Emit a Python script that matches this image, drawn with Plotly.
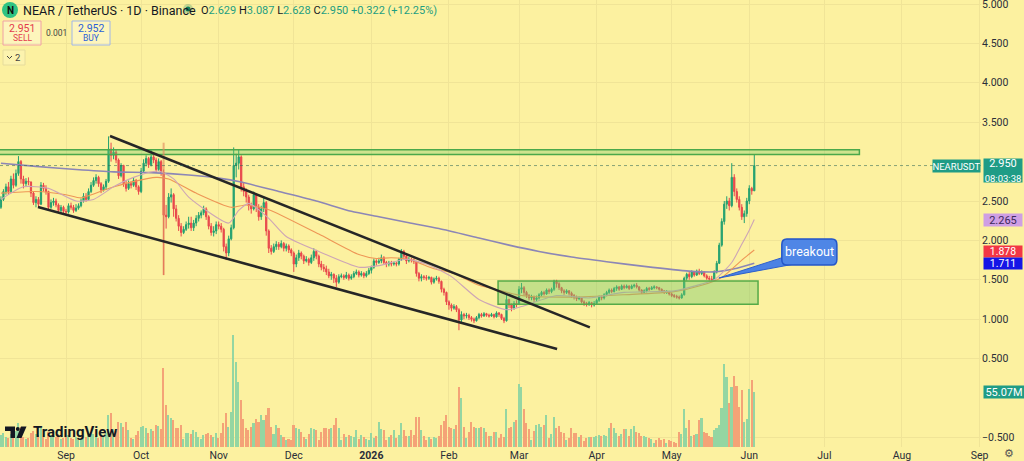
import pandas as pd
import plotly.graph_objects as go

# ---------------- DATA ----------------
START = "2025-08-06"
FIRST_OPEN = 2.42

close_aug = [2.52, 2.62, 2.68, 2.62, 2.78, 2.70, 2.85, 3.00, 2.78, 2.72, 2.75, 2.74, 2.60, 2.48, 2.52, 2.46, 2.70, 2.66, 2.62, 2.42, 2.48, 2.50, 2.45, 2.38, 2.42, 2.37]
high_aug = [2.56, 2.65, 2.72, 2.74, 2.82, 2.85, 2.90, 3.07, 3.02, 2.82, 2.79, 2.80, 2.75, 2.62, 2.56, 2.55, 2.74, 2.73, 2.70, 2.63, 2.52, 2.54, 2.53, 2.47, 2.45, 2.44]
low_aug = [2.40, 2.50, 2.58, 2.58, 2.60, 2.66, 2.68, 2.82, 2.72, 2.66, 2.69, 2.70, 2.55, 2.45, 2.42, 2.42, 2.45, 2.62, 2.58, 2.39, 2.40, 2.44, 2.42, 2.35, 2.36, 2.34]

close_sep = [2.36, 2.44, 2.42, 2.38, 2.41, 2.44, 2.50, 2.56, 2.52, 2.62, 2.70, 2.76, 2.80, 2.72, 2.64, 2.68, 2.75, 3.16, 3.08, 3.12, 3.02, 2.82, 2.95, 2.72, 2.66, 2.72, 2.70, 2.76, 2.68, 2.62]
high_sep = [2.40, 2.47, 2.48, 2.45, 2.46, 2.47, 2.53, 2.60, 2.60, 2.66, 2.74, 2.80, 2.84, 2.82, 2.74, 2.71, 2.78, 3.32, 3.24, 3.18, 3.15, 3.04, 2.98, 2.96, 2.76, 2.76, 2.75, 2.80, 2.78, 2.70]
low_sep = [2.32, 2.34, 2.39, 2.35, 2.36, 2.39, 2.42, 2.48, 2.49, 2.51, 2.60, 2.68, 2.72, 2.68, 2.60, 2.62, 2.64, 2.73, 3.00, 3.03, 2.98, 2.78, 2.80, 2.68, 2.62, 2.64, 2.66, 2.68, 2.64, 2.58]

close_oct = [2.88, 2.98, 3.04, 2.96, 3.06, 3.02, 2.90, 3.00, 2.86, 2.32, 2.30, 2.55, 2.58, 2.40, 2.28, 2.18, 2.10, 2.14, 2.20, 2.22, 2.16, 2.22, 2.28, 2.32, 2.35, 2.40, 2.30, 2.18, 2.10, 2.12, 2.20]
high_oct = [2.92, 3.03, 3.08, 3.06, 3.15, 3.12, 3.05, 3.04, 3.02, 2.90, 2.45, 2.60, 2.66, 2.60, 2.45, 2.32, 2.22, 2.18, 2.24, 2.30, 2.30, 2.26, 2.32, 2.36, 2.38, 2.44, 2.42, 2.32, 2.22, 2.18, 2.24]
low_oct = [2.60, 2.86, 2.94, 2.92, 2.94, 2.98, 2.86, 2.88, 2.82, 1.56, 2.15, 2.28, 2.48, 2.30, 2.24, 2.12, 2.05, 2.08, 2.12, 2.15, 2.12, 2.12, 2.18, 2.24, 2.28, 2.32, 2.26, 2.14, 2.06, 2.05, 2.08]

close_nov = [2.18, 2.14, 1.92, 1.84, 2.02, 2.16, 2.95, 2.98, 3.06, 2.68, 2.62, 2.55, 2.44, 2.40, 2.58, 2.42, 2.30, 2.40, 2.48, 2.12, 1.90, 1.86, 1.92, 1.95, 1.92, 1.96, 1.90, 1.93, 1.88, 1.84]
high_nov = [2.24, 2.22, 2.16, 1.96, 2.06, 2.20, 3.18, 3.10, 3.16, 3.08, 2.74, 2.66, 2.58, 2.48, 2.62, 2.60, 2.46, 2.44, 2.56, 2.50, 2.14, 1.94, 1.96, 1.99, 1.98, 2.00, 1.98, 1.96, 1.95, 1.90]
low_nov = [2.14, 2.10, 1.86, 1.75, 1.80, 2.00, 2.14, 2.80, 2.90, 2.62, 2.56, 2.48, 2.38, 2.34, 2.38, 2.36, 2.25, 2.26, 2.36, 2.06, 1.84, 1.82, 1.84, 1.88, 1.88, 1.90, 1.86, 1.86, 1.84, 1.80]

close_dec = [1.70, 1.78, 1.84, 1.80, 1.74, 1.76, 1.72, 1.78, 1.86, 1.80, 1.70, 1.66, 1.64, 1.60, 1.55, 1.57, 1.52, 1.47, 1.54, 1.55, 1.53, 1.56, 1.52, 1.54, 1.58, 1.60, 1.56, 1.58, 1.55, 1.58, 1.62]
high_dec = [1.86, 1.82, 1.88, 1.86, 1.82, 1.80, 1.78, 1.82, 1.90, 1.88, 1.82, 1.74, 1.70, 1.68, 1.64, 1.60, 1.58, 1.56, 1.57, 1.58, 1.57, 1.60, 1.58, 1.57, 1.61, 1.63, 1.62, 1.61, 1.60, 1.61, 1.65]
low_dec = [1.60, 1.66, 1.74, 1.76, 1.70, 1.72, 1.68, 1.70, 1.74, 1.76, 1.66, 1.62, 1.60, 1.56, 1.52, 1.50, 1.46, 1.41, 1.45, 1.52, 1.50, 1.51, 1.49, 1.50, 1.52, 1.56, 1.53, 1.54, 1.52, 1.53, 1.56]

close_jan = [1.66, 1.74, 1.72, 1.74, 1.78, 1.72, 1.70, 1.71, 1.70, 1.71, 1.70, 1.76, 1.86, 1.80, 1.74, 1.76, 1.75, 1.73, 1.58, 1.52, 1.54, 1.53, 1.52, 1.53, 1.47, 1.51, 1.52, 1.48, 1.38, 1.34, 1.22]
high_jan = [1.68, 1.77, 1.76, 1.78, 1.82, 1.80, 1.74, 1.74, 1.74, 1.73, 1.73, 1.78, 1.89, 1.88, 1.82, 1.79, 1.78, 1.77, 1.74, 1.60, 1.57, 1.56, 1.56, 1.55, 1.54, 1.53, 1.55, 1.54, 1.49, 1.40, 1.35]
low_jan = [1.58, 1.64, 1.68, 1.70, 1.71, 1.69, 1.66, 1.67, 1.67, 1.68, 1.67, 1.68, 1.74, 1.76, 1.70, 1.72, 1.72, 1.70, 1.54, 1.48, 1.48, 1.50, 1.49, 1.50, 1.44, 1.45, 1.49, 1.45, 1.34, 1.30, 1.18]

close_feb = [1.18, 1.14, 1.16, 1.12, 0.99, 1.06, 1.04, 1.05, 1.02, 1.00, 0.98, 1.02, 1.06, 1.04, 1.07, 1.05, 1.04, 1.06, 1.03, 1.08, 1.06, 1.01, 0.98, 1.25, 1.18, 1.14, 1.20, 1.19]
high_feb = [1.24, 1.20, 1.19, 1.18, 1.14, 1.10, 1.08, 1.08, 1.07, 1.04, 1.02, 1.04, 1.08, 1.08, 1.09, 1.08, 1.07, 1.08, 1.07, 1.10, 1.09, 1.07, 1.03, 1.32, 1.26, 1.20, 1.23, 1.24]
low_feb = [1.12, 1.10, 1.12, 1.09, 0.86, 0.95, 1.00, 1.01, 0.99, 0.97, 0.95, 0.97, 1.00, 1.02, 1.03, 1.03, 1.02, 1.03, 1.01, 1.02, 1.03, 0.99, 0.95, 0.97, 1.14, 1.10, 1.12, 1.15]

close_mar = [1.38, 1.40, 1.34, 1.30, 1.27, 1.28, 1.25, 1.27, 1.31, 1.34, 1.32, 1.37, 1.35, 1.38, 1.48, 1.45, 1.40, 1.36, 1.34, 1.36, 1.33, 1.30, 1.28, 1.26, 1.27, 1.22, 1.20, 1.19, 1.21, 1.18, 1.20]
high_mar = [1.42, 1.46, 1.42, 1.36, 1.32, 1.31, 1.30, 1.30, 1.33, 1.36, 1.36, 1.39, 1.39, 1.40, 1.50, 1.50, 1.47, 1.41, 1.38, 1.38, 1.37, 1.35, 1.32, 1.30, 1.29, 1.28, 1.24, 1.22, 1.23, 1.22, 1.23]
low_mar = [1.18, 1.33, 1.30, 1.27, 1.24, 1.24, 1.22, 1.23, 1.25, 1.29, 1.30, 1.31, 1.32, 1.33, 1.36, 1.40, 1.37, 1.33, 1.31, 1.32, 1.30, 1.27, 1.25, 1.23, 1.24, 1.20, 1.17, 1.16, 1.17, 1.15, 1.16]

close_apr = [1.24, 1.28, 1.27, 1.31, 1.34, 1.37, 1.35, 1.39, 1.41, 1.38, 1.42, 1.40, 1.42, 1.39, 1.42, 1.43, 1.41, 1.37, 1.34, 1.36, 1.39, 1.38, 1.40, 1.41, 1.40, 1.38, 1.36, 1.34, 1.35, 1.32]
high_apr = [1.26, 1.30, 1.30, 1.33, 1.36, 1.39, 1.39, 1.41, 1.43, 1.42, 1.44, 1.44, 1.44, 1.43, 1.44, 1.45, 1.46, 1.42, 1.38, 1.38, 1.41, 1.41, 1.42, 1.43, 1.42, 1.41, 1.39, 1.37, 1.37, 1.36]
low_apr = [1.18, 1.22, 1.24, 1.25, 1.29, 1.32, 1.33, 1.34, 1.36, 1.36, 1.37, 1.38, 1.39, 1.37, 1.38, 1.40, 1.39, 1.35, 1.32, 1.33, 1.34, 1.36, 1.37, 1.38, 1.38, 1.36, 1.34, 1.32, 1.32, 1.30]

close_may = [1.30, 1.29, 1.28, 1.27, 1.31, 1.52, 1.57, 1.54, 1.60, 1.56, 1.61, 1.58, 1.60, 1.55, 1.52, 1.51, 1.50, 1.60, 1.71, 1.94, 2.24, 2.46, 2.50, 2.44, 2.80, 2.62, 2.52, 2.42, 2.30, 2.34, 2.50]
high_may = [1.34, 1.32, 1.31, 1.30, 1.33, 1.54, 1.59, 1.60, 1.62, 1.61, 1.63, 1.64, 1.62, 1.61, 1.57, 1.55, 1.55, 1.62, 1.74, 1.97, 2.28, 2.50, 2.56, 2.54, 2.98, 2.84, 2.66, 2.56, 2.46, 2.38, 2.54]
low_may = [1.28, 1.27, 1.26, 1.25, 1.26, 1.30, 1.49, 1.50, 1.52, 1.54, 1.55, 1.56, 1.56, 1.53, 1.50, 1.49, 1.48, 1.49, 1.58, 1.70, 1.92, 2.20, 2.40, 2.38, 2.42, 2.56, 2.48, 2.38, 2.26, 2.22, 2.30]

close_jun = [2.66, 2.629, 2.950]
high_jun = [2.70, 2.68, 3.087]
low_jun = [2.46, 2.58, 2.628]

# volume in millions
vol_aug = [12, 14, 10, 9, 13, 11, 16, 24, 20, 10, 8, 9, 14, 16, 13, 12, 20, 10, 8, 15, 12, 11, 10, 13, 8, 9]
vol_sep = [10, 12, 9, 8, 10, 7, 8, 12, 10, 14, 15, 13, 11, 9, 12, 10, 14, 32, 34, 18, 16, 25, 24, 20, 25, 17, 9, 8, 12, 16]
vol_oct = [20, 21, 19, 14, 18, 16, 22, 21, 18, 79, 42, 32, 29, 27, 19, 19, 22, 8, 14, 14, 13, 17, 15, 10, 8, 12, 13, 14, 12, 10, 14]
vol_nov = [9, 14, 24, 34, 20, 35, 112, 85, 65, 47, 28, 19, 17, 20, 24, 28, 25, 32, 27, 32, 39, 20, 13, 22, 19, 12, 10, 7, 8, 7]
vol_dec = [22, 19, 18, 15, 10, 8, 13, 19, 18, 17, 7, 15, 19, 19, 18, 19, 22, 29, 19, 7, 13, 10, 12, 11, 10, 17, 8, 12, 10, 8, 7]
vol_jan = [14, 9, 11, 25, 18, 17, 7, 10, 12, 17, 9, 12, 24, 17, 11, 11, 17, 12, 30, 30, 17, 11, 7, 10, 8, 10, 9, 11, 22, 26, 32]
vol_feb = [20, 19, 18, 22, 60, 49, 20, 9, 15, 25, 20, 19, 19, 20, 19, 15, 11, 11, 15, 15, 9, 13, 10, 38, 19, 20, 25, 27]
vol_mar = [63, 60, 38, 24, 18, 7, 16, 22, 23, 20, 22, 32, 9, 13, 30, 19, 21, 15, 14, 7, 9, 19, 14, 14, 10, 12, 6, 9, 10, 10, 10]
vol_apr = [11, 12, 11, 12, 11, 19, 24, 19, 14, 11, 13, 18, 18, 11, 18, 21, 15, 14, 11, 11, 10, 9, 8, 4, 7, 9, 7, 8, 4, 7]
vol_may = [6, 5, 4, 15, 13, 38, 19, 27, 11, 12, 13, 27, 29, 15, 14, 11, 10, 17, 19, 22, 39, 83, 70, 44, 60, 71, 61, 40, 57, 25, 28]
vol_jun = [58, 67, 55.07]

# moving averages (date, value)
ma200_dates = ["2025-08-06", "2025-08-20", "2025-09-05", "2025-09-20", "2025-10-05", "2025-10-20", "2025-11-01", "2025-11-10", "2025-11-25", "2025-12-10", "2025-12-24", "2026-01-04", "2026-01-15", "2026-01-28", "2026-02-13", "2026-02-25", "2026-03-09", "2026-03-22", "2026-04-05", "2026-04-20", "2026-05-08", "2026-05-18", "2026-05-26", "2026-06-03"]
ma200_vals = [2.98, 2.94, 2.90, 2.87, 2.86, 2.83, 2.79, 2.74, 2.62, 2.50, 2.37, 2.30, 2.23, 2.15, 2.03, 1.94, 1.86, 1.79, 1.73, 1.67, 1.61, 1.60, 1.64, 1.711]
ma50_dates = ["2025-08-06", "2025-08-20", "2025-09-01", "2025-09-07", "2025-09-18", "2025-09-27", "2025-10-07", "2025-10-12", "2025-10-23", "2025-11-06", "2025-11-12", "2025-11-21", "2025-12-11", "2025-12-27", "2026-01-03", "2026-01-09", "2026-01-17", "2026-01-26", "2026-02-03", "2026-02-13", "2026-02-17", "2026-03-02", "2026-03-22", "2026-04-12", "2026-05-02", "2026-05-13", "2026-05-21", "2026-05-29", "2026-06-03"]
ma50_vals = [2.60, 2.62, 2.58, 2.54, 2.66, 2.74, 2.80, 2.78, 2.60, 2.42, 2.45, 2.39, 2.08, 1.82, 1.77, 1.78, 1.75, 1.64, 1.58, 1.43, 1.40, 1.30, 1.28, 1.31, 1.35, 1.43, 1.53, 1.75, 1.878]
ma20_dates = ["2025-08-06", "2025-08-15", "2025-08-25", "2025-09-05", "2025-09-12", "2025-09-20", "2025-09-28", "2025-10-08", "2025-10-14", "2025-10-20", "2025-11-05", "2025-11-09", "2025-11-13", "2025-11-21", "2025-11-28", "2025-12-11", "2025-12-27", "2026-01-04", "2026-01-15", "2026-01-23", "2026-02-02", "2026-02-13", "2026-02-24", "2026-03-02", "2026-03-16", "2026-03-29", "2026-04-12", "2026-05-02", "2026-05-10", "2026-05-18", "2026-05-25", "2026-05-29", "2026-06-01", "2026-06-03"]
ma20_vals = [2.52, 2.68, 2.66, 2.50, 2.52, 2.68, 2.80, 2.88, 2.78, 2.55, 2.22, 2.38, 2.47, 2.28, 2.05, 1.86, 1.66, 1.68, 1.76, 1.70, 1.54, 1.25, 1.12, 1.16, 1.30, 1.27, 1.34, 1.36, 1.42, 1.50, 1.72, 1.95, 2.13, 2.265]

# 3.000 and 0.000 are covered by the price / volume labels in the reference
y_ticks = [-0.5, 0.5, 1.0, 1.5, 2.0, 2.5, 3.5, 4.0, 4.5, 5.0]
month_ticks = ["2025-09-01", "2025-10-01", "2025-11-01", "2025-12-01", "2026-01-01", "2026-02-01", "2026-03-01", "2026-04-01", "2026-05-01", "2026-06-01", "2026-07-01", "2026-08-01", "2026-09-01"]
month_labels = ["Sep", "Oct", "Nov", "Dec", "<b>2026</b>", "Feb", "Mar", "Apr", "May", "Jun", "Jul", "Aug", "Sep"]

# ---------------- assemble ----------------
closes = close_aug + close_sep + close_oct + close_nov + close_dec + close_jan + close_feb + close_mar + close_apr + close_may + close_jun
highs = high_aug + high_sep + high_oct + high_nov + high_dec + high_jan + high_feb + high_mar + high_apr + high_may + high_jun
lows = low_aug + low_sep + low_oct + low_nov + low_dec + low_jan + low_feb + low_mar + low_apr + low_may + low_jun
vols = vol_aug + vol_sep + vol_oct + vol_nov + vol_dec + vol_jan + vol_feb + vol_mar + vol_apr + vol_may + vol_jun
opens = [FIRST_OPEN] + closes[:-1]
dates = pd.date_range(START, periods=len(closes), freq="D")
assert len(closes) == len(highs) == len(lows) == len(vols)

UP, DN = "#22a070", "#e8474c"
VUP, VDN = "#94d6a2", "#f4a377"
BG = "#fcf1a0"
GRID = "#f0e497"
TEAL = "#1f9c86"

W, H = 1024, 461
ML, MR, MT, MB = 0, 43, 0, 14
PW, PH = W - ML - MR, H - MT - MB


def PX(x):
    return x / PW


def PY(y):
    return 1 - y / PH


def ms(ts):
    return pd.Timestamp(ts).value // 10**6


fig = go.Figure()

vcolors = [VUP if c >= o else VDN for o, c in zip(opens, closes)]
fig.add_trace(go.Bar(x=dates, y=vols, marker=dict(color=vcolors, line=dict(width=0)),
                     width=0.62 * 86400000, yaxis="y2", hoverinfo="skip"))

fig.add_trace(go.Scatter(x=ma200_dates, y=ma200_vals, mode="lines",
                         line=dict(color="#8c86b6", width=1.6, shape="spline", smoothing=0.6)))
fig.add_trace(go.Scatter(x=ma50_dates, y=ma50_vals, mode="lines",
                         line=dict(color="#ee9656", width=1.1, shape="spline", smoothing=0.6)))
fig.add_trace(go.Scatter(x=ma20_dates, y=ma20_vals, mode="lines",
                         line=dict(color="#cda5b6", width=1.1, shape="spline", smoothing=0.6)))

fig.add_trace(go.Candlestick(
    x=dates, open=opens, high=highs, low=lows, close=closes,
    increasing=dict(line=dict(color=UP, width=1), fillcolor=UP),
    decreasing=dict(line=dict(color=DN, width=1), fillcolor=DN),
    whiskerwidth=0, hoverinfo="skip"))

shapes = []
# resistance band
shapes.append(dict(type="rect", xref="x", yref="y", x0="2025-07-01", x1="2026-07-15", y0=3.09, y1=3.15,
                   fillcolor="rgba(120,200,105,0.35)", line=dict(color="#4aa84a", width=1.5)))
# accumulation box
shapes.append(dict(type="rect", xref="x", yref="y", x0="2026-02-20 15:00", x1="2026-06-04 12:00", y0=1.19, y1=1.485,
                   fillcolor="rgba(120,200,105,0.42)", line=dict(color="#55aa48", width=1.5)))
# Oct 10 wick marker
shapes.append(dict(type="line", xref="x", yref="y", x0="2025-10-10", x1="2025-10-10", y0=1.56, y1=3.24,
                   line=dict(color="rgba(226,140,95,0.65)", width=2)))
# trendlines
shapes.append(dict(type="line", xref="x", yref="y", x0="2025-09-18 14:00", y0=3.325, x1="2026-03-29 07:00", y1=0.897,
                   line=dict(color="#262626", width=2.5)))
shapes.append(dict(type="line", xref="x", yref="y", x0="2025-08-20 19:00", y0=2.424, x1="2026-03-16 05:00", y1=0.622,
                   line=dict(color="#262626", width=2.5)))
# last price dotted line
shapes.append(dict(type="line", xref="paper", yref="y", x0=0, x1=1, y0=2.95, y1=2.95,
                   line=dict(color="rgba(40,100,85,0.55)", width=1, dash="dot")))

# breakout callout
bx0, bx1 = ms("2026-06-14"), ms("2026-07-06")
by0, by1 = 1.688, 2.018
rx, ry = ms("2026-01-03") - ms("2026-01-01"), 0.07
tip_x, tip_y = ms("2026-05-19 21:00"), 1.523
shapes.append(dict(type="path", xref="x", yref="y",
                   path=f"M {tip_x},{tip_y} L {ms('2026-06-15')},{1.79} L {ms('2026-06-19')},{1.70} Z",
                   fillcolor="#4b82e4", line=dict(color="#2d5fcc", width=1)))
shapes.append(dict(type="path", xref="x", yref="y",
                   path=(f"M {bx0+rx},{by1} L {bx1-rx},{by1} Q {bx1},{by1} {bx1},{by1-ry} "
                         f"L {bx1},{by0+ry} Q {bx1},{by0} {bx1-rx},{by0} L {bx0+rx},{by0} "
                         f"Q {bx0},{by0} {bx0},{by0+ry} L {bx0},{by1-ry} Q {bx0},{by1} {bx0+rx},{by1} Z"),
                   fillcolor="#4f86e6", line=dict(color="#2456c8", width=1.5)))

# header UI
shapes.append(dict(type="circle", xref="paper", yref="paper", x0=PX(2), x1=PX(18), y0=PY(18), y1=PY(2),
                   fillcolor="#2fc383", line=dict(width=0)))
shapes.append(dict(type="circle", xref="paper", yref="paper", x0=PX(183), x1=PX(193), y0=PY(14), y1=PY(4),
                   fillcolor="rgba(20,130,95,0.25)", line=dict(width=0)))
shapes.append(dict(type="circle", xref="paper", yref="paper", x0=PX(185.5), x1=PX(190.5), y0=PY(11.5), y1=PY(6.5),
                   fillcolor="#11805c", line=dict(width=0)))
shapes.append(dict(type="rect", xref="paper", yref="paper", x0=PX(3), x1=PX(41), y0=PY(45), y1=PY(21),
                   fillcolor="rgba(255,255,255,0.3)", line=dict(color="#f0a0a4", width=1)))
shapes.append(dict(type="rect", xref="paper", yref="paper", x0=PX(72), x1=PX(110), y0=PY(45), y1=PY(21),
                   fillcolor="rgba(255,255,255,0.3)", line=dict(color="#9fb6ea", width=1)))
shapes.append(dict(type="rect", xref="paper", yref="paper", x0=PX(3), x1=PX(25), y0=PY(65), y1=PY(50),
                   fillcolor="rgba(255,255,255,0.15)", line=dict(color="#e6dc9c", width=1)))
shapes.append(dict(type="path", xref="paper", yref="paper",
                   path=f"M {PX(7)},{PY(56)} L {PX(9.5)},{PY(58.5)} L {PX(12)},{PY(56)}",
                   line=dict(color="#444", width=1)))
# TradingView mark
shapes.append(dict(type="path", xref="paper", yref="paper",
                   path=(f"M {PX(5)},{PY(426.5)} L {PX(15)},{PY(426.5)} L {PX(15)},{PY(438)} L {PX(10.5)},{PY(438)} "
                         f"L {PX(10.5)},{PY(431)} L {PX(5)},{PY(431)} Z"),
                   fillcolor="#131722", line=dict(width=0)))
shapes.append(dict(type="circle", xref="paper", yref="paper", x0=PX(15.8), x1=PX(19.8), y0=PY(431), y1=PY(427),
                   fillcolor="#131722", line=dict(width=0)))
shapes.append(dict(type="path", xref="paper", yref="paper",
                   path=f"M {PX(21)},{PY(426.5)} L {PX(26.5)},{PY(426.5)} L {PX(21.5)},{PY(438)} L {PX(16.5)},{PY(438)} Z",
                   fillcolor="#131722", line=dict(width=0)))

FONT = "Roboto"
ann = []


def txt(x, y, s, size=11, color="#131722", anchor="left", **kw):
    ann.append(dict(xref="paper", yref="paper", x=PX(x), y=PY(y), text=s, showarrow=False,
                    xanchor=anchor, yanchor="middle", font=dict(family=FONT, size=size, color=color), **kw))


txt(10, 10, "<b>N</b>", 10, "#111", "center")
txt(21, 10, "NEAR / TetherUS · 1D · Binance", 12.5, "#131722")
g = "#1e9e80"
txt(199, 10, (f"O<span style='color:{g}'>2.629</span> H<span style='color:{g}'>3.087</span> "
              f"L<span style='color:{g}'>2.628</span> C<span style='color:{g}'>2.950</span> "
              f"<span style='color:{g}'>+0.322 (+12.25%)</span>"), 11, "#131722")
txt(22, 28.5, "2.951", 10.5, "#e33b4c", "center")
txt(22, 38.5, "SELL", 8.5, "#e33b4c", "center")
txt(56, 33, "0.001", 8.5, "#444", "center")
txt(91, 28.5, "2.952", 10.5, "#2a5fd8", "center")
txt(91, 38.5, "BUY", 8.5, "#2a5fd8", "center")
txt(17, 57.5, "2", 9.5, "#444", "center")
txt(31, 432, "<b>TradingView</b>", 15, "#131722")
txt(1009, 453, "⚙", 11, "#555", "center")

# breakout label
ann.append(dict(xref="x", yref="y", x="2026-06-25", y=1.853, text="breakout", showarrow=False,
                font=dict(family=FONT, size=12.5, color="white")))

# right axis labels


def plabel(y, s, bg, fc="white", yref="y", w=38, h=12, size=11, yanchor="middle", yshift=0):
    ann.append(dict(xref="paper", yref=yref, x=1, y=y, xanchor="left", xshift=2, yanchor=yanchor, yshift=yshift,
                    text=s, showarrow=False, bgcolor=bg, width=w, height=h, borderpad=0, align="center",
                    font=dict(family=FONT, size=size, color=fc)))


plabel(2.95, "2.950<br><span style='font-size:9.5px'>08:03:38</span>", TEAL, h=23, yanchor="top", yshift=8)
plabel(2.265, "2.265", "#cf9fe4", fc="#3c2a5c")
plabel(1.878, "1.878", "#f23645", h=11, yshift=-1.5, size=10.5)
plabel(1.711, "1.711", "#1515e6", h=11, size=10.5)
plabel(55.07, "55.07M", TEAL, yref="y2", w=40)
ann.append(dict(xref="paper", yref="y", x=1, y=2.95, xanchor="right", yanchor="middle", text="NEARUSDT",
                showarrow=False, bgcolor=TEAL, width=47, height=12, borderpad=0,
                font=dict(family=FONT, size=9.5, color="white")))

fig.update_layout(
    width=W, height=H, margin=dict(l=ML, r=MR, t=MT, b=MB, pad=0),
    paper_bgcolor=BG, plot_bgcolor=BG, showlegend=False, hovermode=False,
    shapes=shapes, annotations=ann, bargap=0,
    xaxis=dict(type="date", range=["2025-08-05 15:00", "2026-09-01 14:00"], tickvals=month_ticks,
               ticktext=month_labels, showgrid=True, gridcolor=GRID, gridwidth=1, zeroline=False,
               rangeslider=dict(visible=False), ticks="", showline=False, automargin=False,
               tickfont=dict(family=FONT, size=10.5, color="#2a2e39")),
    yaxis=dict(range=[-0.622, 5.051], side="right", tickvals=y_ticks, tickformat=".3f",
               showgrid=True, gridcolor=GRID, zeroline=False, ticks="", showline=False, automargin=False,
               ticklabeloverflow="allow",
               tickfont=dict(family=FONT, size=10.5, color="#2a2e39")),
    yaxis2=dict(range=[0, 447], overlaying="y", visible=False, showgrid=False, zeroline=False),
)

fig.write_html("out.html")
